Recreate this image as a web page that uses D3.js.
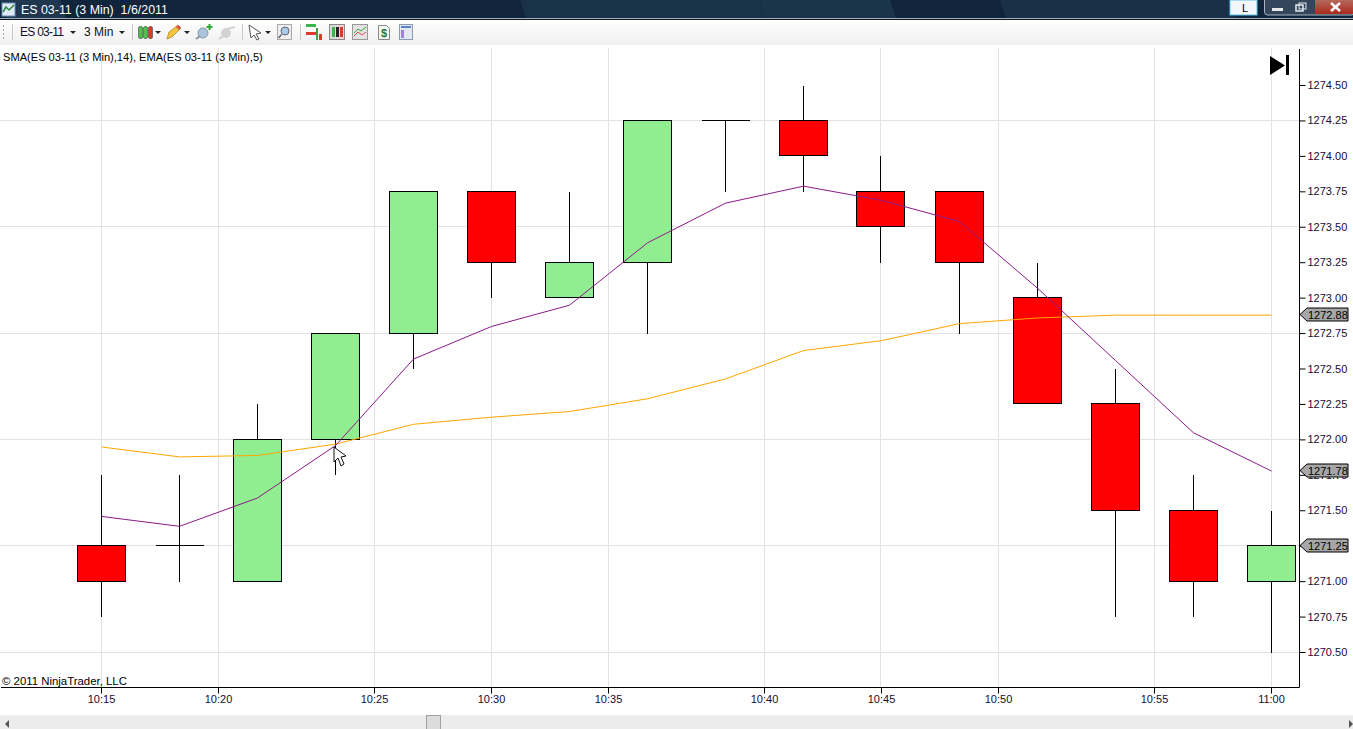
<!DOCTYPE html>
<html>
<head>
<meta charset="UTF-8">
<title>ES 03-11 (3 Min) 1/6/2011</title>
<script src="https://d3js.org/d3.v7.min.js"></script>
<style type="text/css">
    html, body { margin: 0; padding: 0; background: #fff; overflow: hidden; }
    svg { display: block; }
    text { font-family: "Liberation Sans", Arial, sans-serif; font-size: 11px; fill: #000; }
    .axis-label { fill: #1a0a33; }
    .title { font-size: 12.4px; fill: #fff; }
    .menu { font-size: 12px; fill: #10102a; }
</style>
</head>
<body>
<script type="text/javascript">
// Chart data
const times = ['10:15', '10:18', '10:21', '10:24', '10:27', '10:30', '10:33', '10:36', '10:39', '10:42', '10:45', '10:48', '10:51', '10:54', '10:57', '11:00'];
const opens = [1271.25, 1271.25, 1271.00, 1272.00, 1272.75, 1273.75, 1273.00, 1273.25, 1274.25, 1274.25, 1273.75, 1273.75, 1273.00, 1272.25, 1271.50, 1271.00];
const highs = [1271.75, 1271.75, 1272.25, 1272.75, 1273.75, 1273.75, 1273.75, 1274.25, 1274.25, 1274.50, 1274.00, 1273.75, 1273.25, 1272.50, 1271.75, 1271.50];
const lows = [1270.75, 1271.00, 1271.00, 1271.75, 1272.50, 1273.00, 1273.00, 1272.75, 1273.75, 1273.75, 1273.25, 1272.75, 1272.25, 1270.75, 1270.75, 1270.50];
const closes = [1271.00, 1271.25, 1272.00, 1272.75, 1273.75, 1273.25, 1273.25, 1274.25, 1274.25, 1274.00, 1273.50, 1273.25, 1272.25, 1271.50, 1271.00, 1271.25];
const sma14 = [1271.95, 1271.88, 1271.89, 1271.97, 1272.11, 1272.16, 1272.20, 1272.29, 1272.43, 1272.63, 1272.70, 1272.82, 1272.86, 1272.88, 1272.88, 1272.88];
const ema5 = [1271.46, 1271.39, 1271.59, 1271.96, 1272.57, 1272.80, 1272.95, 1273.39, 1273.67, 1273.79, 1273.69, 1273.54, 1273.07, 1272.56, 1272.05, 1271.78];
const priceTicks = [1270.50, 1270.75, 1271.00, 1271.25, 1271.50, 1271.75, 1272.00, 1272.25, 1272.50, 1272.75, 1273.00, 1273.25, 1273.50, 1273.75, 1274.00, 1274.25, 1274.50];
const gridPrices = [1270.50, 1271.25, 1272.00, 1272.75, 1273.50, 1274.25];
// time labels sit on the bar index axis (the chart is equidistant, not true time)
const timeTickIndex = [0, 1.5, 3.5, 5, 6.5, 8.5, 10, 11.5, 13.5, 15];
const timeTickLabels = ['10:15', '10:20', '10:25', '10:30', '10:35', '10:40', '10:45', '10:50', '10:55', '11:00'];
const priceMarkers = [1272.88, 1271.78, 1271.25];

const W = 1353, H = 729;
const plotRight = 1299.5, plotBottom = 687.5, plotTop = 49;

const svg = d3.select('body').append('svg').attr('width', W).attr('height', H);

// Scales
const x = d3.scaleLinear().domain([0, 15]).range([101, 1271]);
const y = d3.scaleLinear().domain([1270.5, 1274.5]).range([652, 85]);
const px = v => Math.floor(x(v)) + .5;
const py = v => Math.floor(y(v)) + .5;

// Window chrome
const defs = svg.append('defs');
const toolGrad = defs.append('linearGradient').attr('id', 'toolGrad').attr('x2', 0).attr('y2', 1);
toolGrad.append('stop').attr('offset', '0').attr('stop-color', '#ffffff');
toolGrad.append('stop').attr('offset', '1').attr('stop-color', '#efefef');
const closeGrad = defs.append('linearGradient').attr('id', 'closeGrad').attr('x2', 0).attr('y2', 1);
closeGrad.append('stop').attr('offset', '0').attr('stop-color', '#b5695c');
closeGrad.append('stop').attr('offset', '1').attr('stop-color', '#a92a1c');

svg.append('rect').attr('width', W).attr('height', 18).attr('fill', '#10243b');
// glass streaks in the title bar
[[0, 60, '#1f3850'], [520, 240, '#1a3248'], [760, 130, '#1c344a'], [1000, 230, '#1a3046']].forEach(d => {
    svg.append('path').attr('d', 'M' + d[0] + ' 0h' + d[1] + 'l6 18h-' + d[1] + 'z').attr('fill', d[2]);
});
svg.append('rect').attr('y', 18).attr('width', W).attr('height', 1).attr('fill', '#9fb0bd');
svg.append('rect').attr('y', 19).attr('width', W).attr('height', 1).attr('fill', '#10161e');
svg.append('rect').attr('y', 20).attr('width', W).attr('height', 25).attr('fill', 'url(#toolGrad)');
svg.append('text').attr('class', 'title').attr('x', 21).attr('y', 14).text('ES 03-11 (3 Min)\u00a0\u00a01/6/2011');

// title icon
svg.append('rect').attr('x', 2).attr('y', 3).attr('width', 13).attr('height', 13).attr('fill', '#dfe8f5').attr('stroke', '#6f8fc0');
svg.append('path').attr('d', 'M3 12L6 7L9 10L14 5').attr('fill', 'none').attr('stroke', '#2d8a3c').attr('stroke-width', 1.5);

// window buttons
svg.append('rect').attr('x', 1230).attr('y', 0).attr('width', 27).attr('height', 15).attr('fill', '#f3f7fb').attr('stroke', '#5cc3e6');
svg.append('text').attr('x', 1245).attr('y', 12).attr('text-anchor', 'middle').text('L');
svg.append('rect').attr('x', 1264.5).attr('y', -2).attr('width', 90).attr('height', 17).attr('rx', 3).attr('fill', '#33465c').attr('stroke', '#a9b4c0');
svg.append('rect').attr('x', 1315).attr('y', 0).attr('width', 38).attr('height', 14).attr('fill', 'url(#closeGrad)');
svg.append('rect').attr('x', 1272).attr('y', 8).attr('width', 11).attr('height', 3).attr('fill', '#e6e9ec');
svg.append('rect').attr('x', 1296).attr('y', 5).attr('width', 7).attr('height', 6).attr('fill', 'none').attr('stroke', '#e6e9ec').attr('stroke-width', 1.5);
svg.append('rect').attr('x', 1299).attr('y', 3).attr('width', 7).attr('height', 6).attr('fill', 'none').attr('stroke', '#e6e9ec');
svg.append('path').attr('d', 'M1331 3L1340 11M1340 3L1331 11').attr('stroke', '#fff').attr('stroke-width', 2.5);

// toolbar text, arrows and separators
svg.append('text').attr('class', 'menu').attr('x', 20).attr('y', 36).attr('textLength', 44).text('ES 03-11');
svg.append('text').attr('class', 'menu').attr('x', 84).attr('y', 36).text('3 Min');
[[70, 31], [119, 31], [155, 31], [184, 31], [265, 31]].forEach(d => {
    svg.append('path').attr('d', 'M' + d[0] + ' ' + d[1] + 'h6l-3 3z').attr('fill', '#222');
});
svg.append('line').attr('x1', 3.5).attr('x2', 3.5).attr('y1', 25).attr('y2', 39).attr('stroke', '#aaa').attr('stroke-dasharray', '2 2');
[12, 132, 242, 300].forEach(d => {
    svg.append('line').attr('x1', d + .5).attr('x2', d + .5).attr('y1', 24).attr('y2', 40).attr('stroke', '#c8c8c8');
});

// toolbar icons
[[138.5, '#4fc04a'], [143.5, '#4fc04a'], [148.5, '#e0392c']].forEach(d => {
    svg.append('rect').attr('x', d[0]).attr('y', 26.5).attr('width', 4).attr('height', 12).attr('rx', 1.5).attr('fill', d[1]).attr('stroke', '#444').attr('stroke-width', .6);
});
svg.append('path').attr('d', 'M167 39L169 32L178 25L181 28L172 37Z').attr('fill', '#f3c63d').attr('stroke', '#a07d20').attr('stroke-width', .7);
svg.append('path').attr('d', 'M178 25L181 28L179 30L176 27Z').attr('fill', '#d9534f');
svg.append('circle').attr('cx', 203).attr('cy', 33).attr('r', 5).attr('fill', '#a9c4dc').attr('stroke', '#8a96a3');
svg.append('path').attr('d', 'M196 39L200 36').attr('stroke', '#8a96a3').attr('stroke-width', 2);
svg.append('path').attr('d', 'M206.500 27h6M209.500 24v6').attr('stroke', '#2ea836').attr('stroke-width', 2);
svg.append('circle').attr('cx', 226).attr('cy', 33).attr('r', 5).attr('fill', '#d3d3d3');
svg.append('path').attr('d', 'M219 39L223 36M227 29L235 27').attr('stroke', '#d3d3d3').attr('stroke-width', 2);
svg.append('path').attr('d', 'M249 25L261 33L256 34L259 39L257 40L254 35L251 38Z').attr('fill', '#fff').attr('stroke', '#555');
svg.append('rect').attr('x', 277.500).attr('y', 24.500).attr('width', 14).attr('height', 15).attr('fill', '#efefef').attr('stroke', '#aaa');
svg.append('circle').attr('cx', 285).attr('cy', 31).attr('r', 4).attr('fill', '#a9cbe8').attr('stroke', '#667');
svg.append('path').attr('d', 'M281.500 34.500L278.500 38').attr('stroke', '#667').attr('stroke-width', 1.5);

// order-book style icon
svg.append('rect').attr('x', 306).attr('y', 24).attr('width', 10).attr('height', 3).attr('fill', '#3bb54a');
svg.append('rect').attr('x', 306).attr('y', 32).attr('width', 10).attr('height', 3).attr('fill', '#e0392c');
svg.append('rect').attr('x', 316).attr('y', 28).attr('width', 2).attr('height', 12).attr('fill', '#4a9a4a');
svg.append('rect').attr('x', 319).attr('y', 34).attr('width', 3).attr('height', 6).attr('fill', '#e0392c');
// candles in a box
svg.append('rect').attr('x', 329.500).attr('y', 24.500).attr('width', 15).attr('height', 15).attr('fill', '#d9d9d9').attr('stroke', '#8a8a8a');
[[332, '#3bb54a'], [336, '#222'], [340, '#e0392c']].forEach(d => {
    svg.append('rect').attr('x', d[0]).attr('y', 27).attr('width', 3).attr('height', 10).attr('fill', d[1]);
});
// mini line chart
svg.append('rect').attr('x', 352.500).attr('y', 24.500).attr('width', 15).attr('height', 15).attr('fill', '#e2e2e2').attr('stroke', '#999');
svg.append('path').attr('d', 'M354 33L358 29L361 31L366 27').attr('fill', 'none').attr('stroke', '#3bae3b');
svg.append('path').attr('d', 'M354 36L358 32L362 35L366 32').attr('fill', 'none').attr('stroke', '#d9534f');
// dollar page
svg.append('path').attr('d', 'M378.500 25.500h8l3 3v11h-11z').attr('fill', '#f4f8f2').attr('stroke', '#888');
svg.append('text').attr('x', 384).attr('y', 37).attr('text-anchor', 'middle').style('fill', '#1d7a35').style('font-weight', 'bold').text('$');
// list page
svg.append('rect').attr('x', 399.500).attr('y', 24.500).attr('width', 13).attr('height', 15).attr('fill', '#e3e8f3').attr('stroke', '#8c9ab5');
svg.append('rect').attr('x', 401).attr('y', 26).attr('width', 10).attr('height', 2).attr('fill', '#5b86c4');
svg.append('rect').attr('x', 401).attr('y', 30).attr('width', 3).attr('height', 8).attr('fill', '#a67fd6');

// Grid
const grid = svg.append('g').attr('stroke', '#e2e2e2').attr('shape-rendering', 'crispEdges');
grid.selectAll('.h').data(gridPrices).enter().append('line')
    .attr('x1', 0).attr('x2', plotRight).attr('y1', d => py(d)).attr('y2', d => py(d));
grid.selectAll('.v').data(timeTickIndex).enter().append('line')
    .attr('x1', d => px(d)).attr('x2', d => px(d)).attr('y1', plotTop - 1).attr('y2', plotBottom);

// Candles
const bars = svg.append('g').attr('shape-rendering', 'crispEdges');
const bw = 48;
times.forEach((t, i) => {
    const cx = px(i);
    bars.append('line').attr('x1', cx).attr('x2', cx).attr('y1', py(highs[i])).attr('y2', py(lows[i])).attr('stroke', '#000');
    if (opens[i] === closes[i]) {
        bars.append('line').attr('x1', cx - bw / 2).attr('x2', cx + bw / 2).attr('y1', py(opens[i])).attr('y2', py(opens[i])).attr('stroke', '#000');
    } else {
        bars.append('rect').attr('x', cx - bw / 2).attr('width', bw)
            .attr('y', py(Math.max(opens[i], closes[i])))
            .attr('height', Math.abs(py(opens[i]) - py(closes[i])))
            .attr('fill', closes[i] > opens[i] ? '#90ee90' : '#ff0000').attr('stroke', '#000');
    }
});

// Indicator lines
const line = d3.line().x((d, i) => x(i) + .5).y(d => y(d) + .5);
svg.append('path').datum(sma14).attr('d', line).attr('fill', 'none').attr('stroke', '#ffa500');
svg.append('path').datum(ema5).attr('d', line).attr('fill', 'none').attr('stroke', '#8b1a8b');

// Axes
const yAxis = d3.axisRight(y).tickValues(priceTicks).tickFormat(d3.format('.2f')).tickSize(6).tickSizeOuter(0);
const yG = svg.append('g').attr('transform', 'translate(' + plotRight + ',0)').call(yAxis);
yG.select('.domain').remove();
yG.selectAll('text').attr('class', 'axis-label').style('font-size', '11px').attr('x', 8);
svg.append('line').attr('x1', plotRight).attr('x2', plotRight).attr('y1', plotTop).attr('y2', plotBottom).attr('stroke', '#000');
const xAxis = d3.axisBottom(x).tickValues(timeTickIndex).tickFormat((d, i) => timeTickLabels[i]).tickSize(6).tickSizeOuter(0);
const xG = svg.append('g').attr('transform', 'translate(0,' + plotBottom + ')').call(xAxis);
xG.select('.domain').remove();
xG.selectAll('text').attr('class', 'axis-label').style('font-size', '11px').attr('dy', '.55em');
svg.append('line').attr('x1', 1).attr('x2', plotRight).attr('y1', plotBottom).attr('y2', plotBottom).attr('stroke', '#000');

// Price markers
const markers = svg.append('g');
priceMarkers.forEach(p => {
    const my = py(p);
    markers.append('path').attr('d', 'M1300 ' + my + 'l7 -6.5h41v13h-41z').attr('fill', '#a6a6a6').attr('stroke', '#000');
    markers.append('text').attr('x', 1308).attr('y', my + 4).text(d3.format('.2f')(p));
});

// Labels
svg.append('text').attr('x', 3).attr('y', 61).style('font-size', '11.1px').text('SMA(ES 03-11 (3 Min),14), EMA(ES 03-11 (3 Min),5)');
svg.append('text').attr('x', 2).attr('y', 685).style('font-size', '11.4px').text('\u00a9 2011 NinjaTrader, LLC');

// Go-to-end button
svg.append('path').attr('d', 'M1270 56L1285 65.500L1270 75Z').attr('fill', '#000');
svg.append('rect').attr('x', 1286).attr('y', 55).attr('width', 3).attr('height', 20).attr('fill', '#000');

// Mouse cursor
svg.append('path').attr('d', 'M334 447V462L338 458L341 466L344 464L341 457L346 456Z').attr('fill', '#fff').attr('stroke', '#111');

// Scrollbar
svg.append('rect').attr('y', 715).attr('width', W).attr('height', 14).attr('fill', '#ececec');
svg.append('rect').attr('x', 426.500).attr('y', 715.500).attr('width', 14).attr('height', 14).attr('fill', '#dcdcdc').attr('stroke', '#a0a0a0');
svg.append('path').attr('d', 'M5 724l4 -4v8z').attr('fill', '#555');
svg.append('path').attr('d', 'M1349 720l4 4l-4 4z').attr('fill', '#555');
</script>
</body>
</html>
